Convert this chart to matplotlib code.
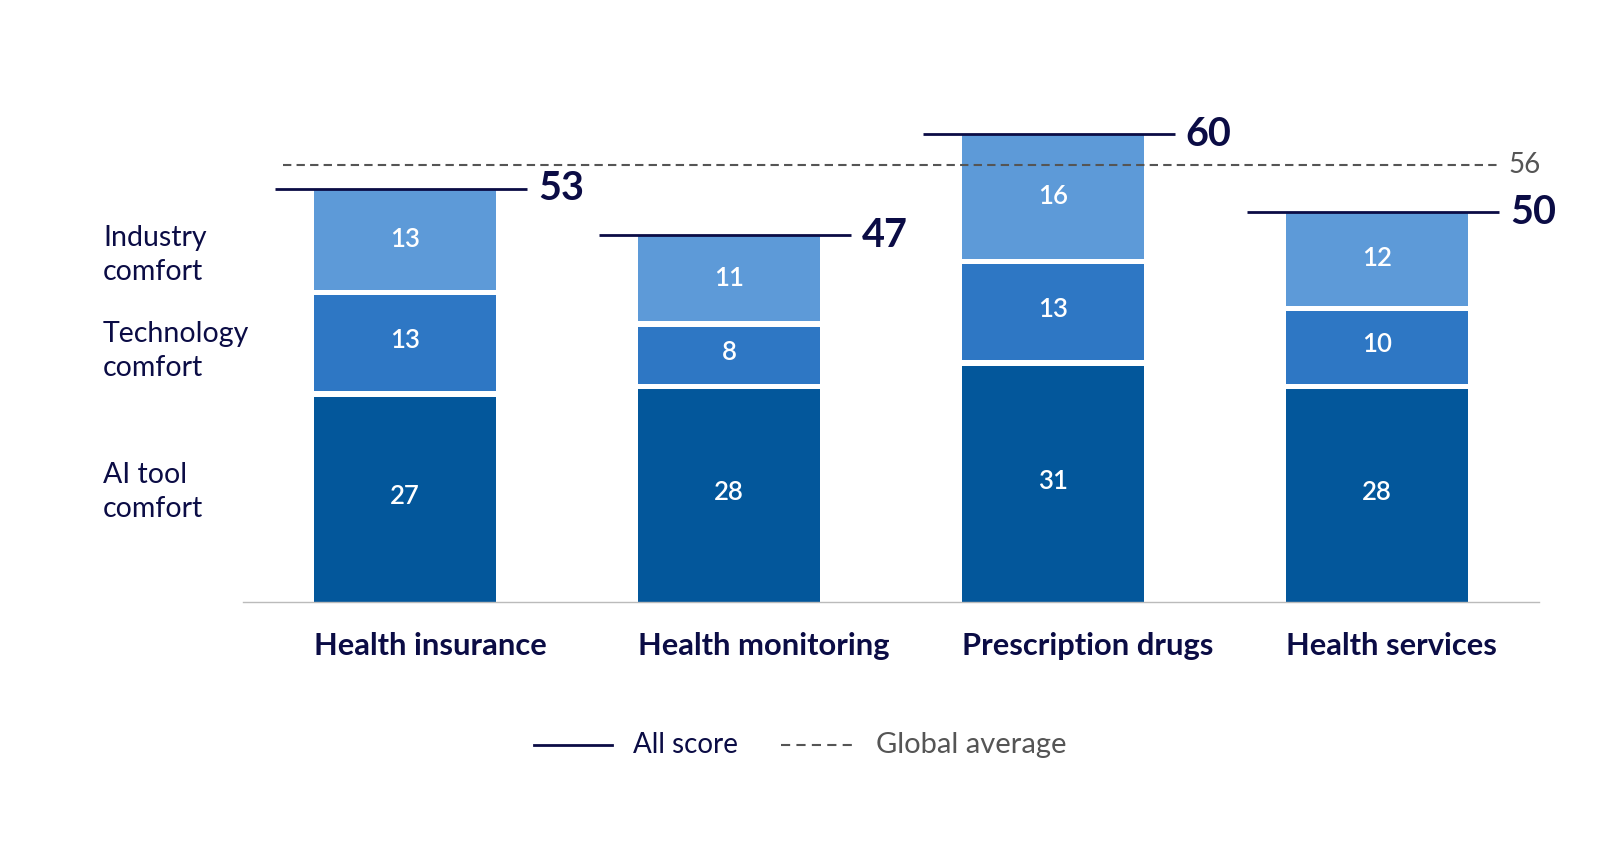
import numpy as np
import matplotlib.pyplot as plt
from matplotlib.lines import Line2D

plt.rcParams['font.family'] = ['Lato', 'DejaVu Sans']

categories = ['Health insurance', 'Health monitoring', 'Prescription drugs', 'Health services']
ai_tool = [27, 28, 31, 28]
technology = [13, 8, 13, 10]
industry = [13, 11, 16, 12]
global_avg = 56
seg_names = ['AI tool\ncomfort', 'Technology\ncomfort', 'Industry\ncomfort']

navy = '#0b0c45'
grey = '#555555'
colors = ['#03579b', '#2e77c4', '#5d9ad8']

W, H = 1600, 842
fig = plt.figure(figsize=(16, 8.42), dpi=100)
# axes: x from 243px to 1539px, baseline at 602px, 7.8 px per unit
ax = fig.add_axes([243/W, 1 - 602/H, 1296/W, 585/H])
ax.set_xlim(-0.5, 3.5)
ax.set_ylim(0, 75)

x = np.arange(len(categories))
width = 0.562
gap = 0.7

series = [ai_tool, technology, industry]
bottom = np.zeros(len(categories))
for i, vals in enumerate(series):
    vals = np.array(vals, dtype=float)
    top_seg = (i == len(series) - 1)
    h = vals if top_seg else vals - gap
    ax.bar(x, h, width, bottom=bottom, color=colors[i], linewidth=0)
    for xi, b, v in zip(x, bottom, vals):
        ax.text(xi, b + v / 2, str(int(v)), ha='center', va='center',
                color='white', fontsize=18.5, fontweight='semibold')
    bottom = bottom + vals

totals = bottom
ax.hlines(totals, x - 0.40, x + 0.375, colors=navy, lw=2)
for xi, t in zip(x, totals):
    ax.text(xi + 0.41, t, str(int(t)), ha='left', va='center',
            color=navy, fontsize=28.5, fontweight='bold')

ax.hlines(global_avg, -0.377, 3.37, colors=grey, lw=1.5, linestyles=(0, (4, 2.5)))
ax.text(3.405, global_avg, str(global_avg), ha='left', va='center',
        color=grey, fontsize=20)

for s in ['top', 'right', 'left']:
    ax.spines[s].set_visible(False)
ax.spines['bottom'].set_color('#bbbbbb')
ax.spines['bottom'].set_linewidth(1)
ax.set_yticks([])
ax.set_xticks([])

# category labels, left-aligned with bar edges
for xi, c in zip(x, categories):
    ax.annotate(c, xy=(xi - width / 2, 0), xycoords='data',
                xytext=(0, -44), textcoords='offset pixels',
                ha='left', va='center', color=navy, fontsize=22.2, fontweight='bold')

# segment names on the left, beside the first bar
mids = np.cumsum([0] + [s[0] for s in series[:-1]]) + np.array([s[0] for s in series]) / 2
nudges = [5, -10, -16]
for name, m, dy in zip(seg_names, mids, nudges):
    ax.annotate(name, xy=(-0.5, m), xycoords='data', xytext=(-140, dy),
                textcoords='offset pixels', ha='left', va='center',
                color=navy, fontsize=20.5, linespacing=1.4)

# legend
ly = 1 - 745/H
fig.add_artist(Line2D([534/W, 612/W], [ly, ly], color=navy, lw=2))
fig.text(633/W, ly, 'All score', ha='left', va='center',
         color=navy, fontsize=20)
fig.add_artist(Line2D([781/W, 856/W], [ly, ly], color=grey, lw=1.5,
                      linestyle=(0, (4.4, 3.0))))
fig.text(876/W, ly, 'Global average', ha='left', va='center',
         color=grey, fontsize=21)

fig.savefig('out.png', dpi=100, facecolor='white')
